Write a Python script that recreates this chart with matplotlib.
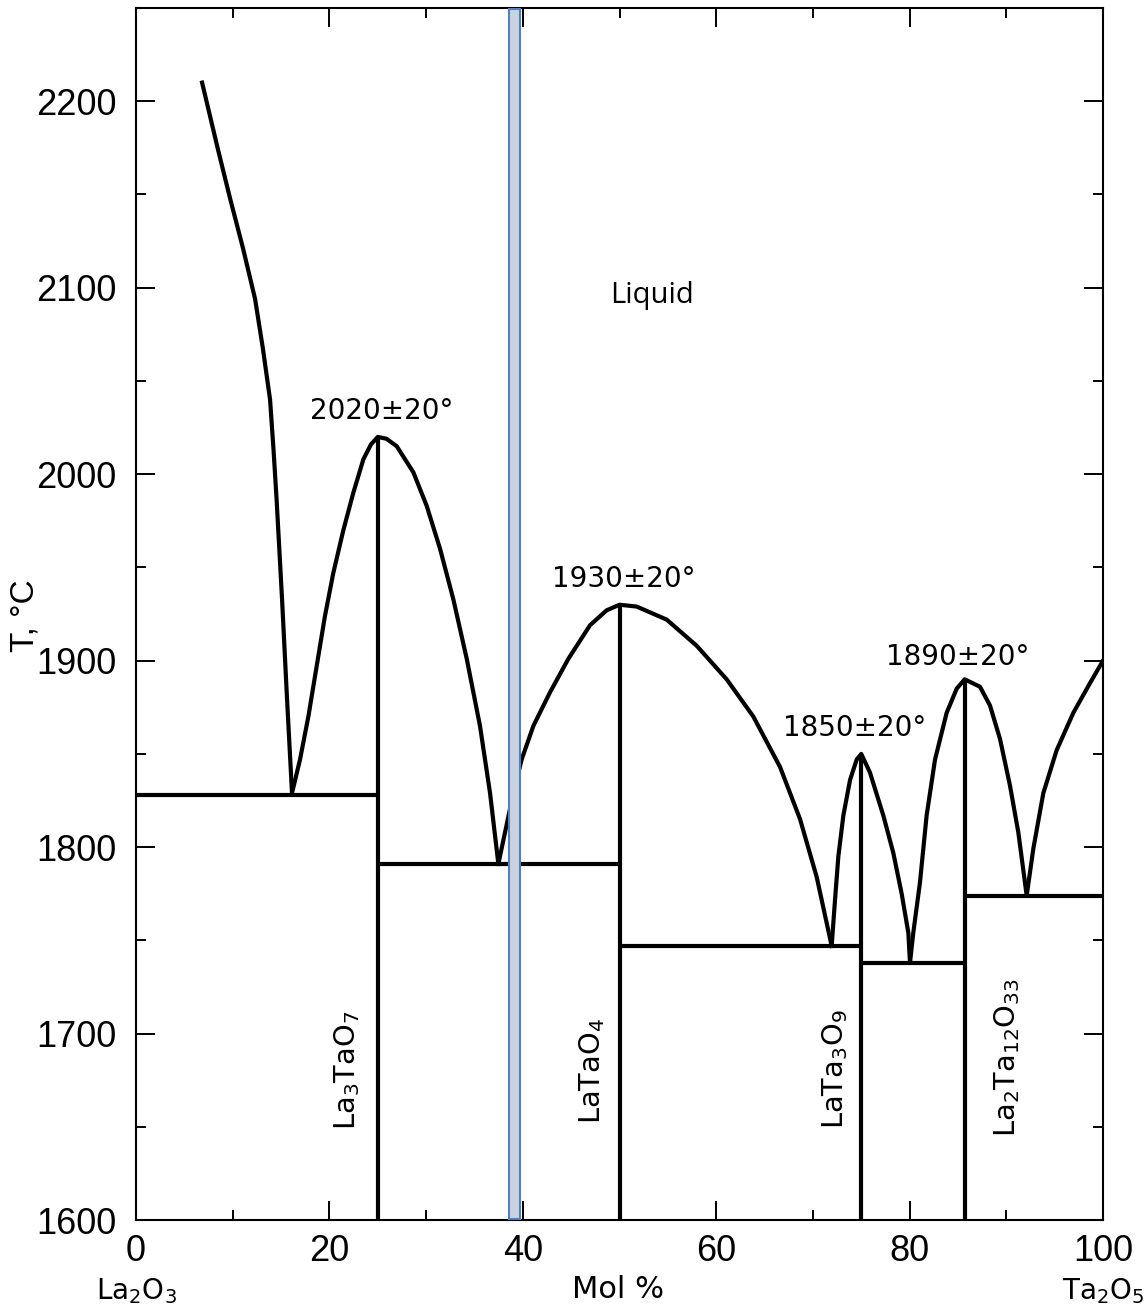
import matplotlib
matplotlib.use("Agg")
import matplotlib.pyplot as plt
from matplotlib.patches import Rectangle
from matplotlib.ticker import MultipleLocator
import matplotlib.transforms as mtransforms

plt.rcParams["mathtext.default"] = "regular"

# liquidus branches (mol % Ta2O5, T in °C)
liq1_x = [6.83, 8.48, 9.72, 11.07, 12.31, 13.13, 13.86, 14.22, 14.53, 15.10, 15.62, 16.13]
liq1_t = [2210, 2174, 2148, 2121, 2094, 2067, 2040, 2013, 1987, 1933, 1879, 1829]

liq2_x = [16.13, 16.96, 17.82, 18.68, 19.54, 20.40, 21.44, 22.47, 23.51, 24.30, 25.0,
          25.9, 26.96, 28.68, 30.06, 31.44, 32.81, 34.20, 35.57, 36.61, 37.47]
liq2_t = [1829, 1847, 1870, 1897, 1924, 1947, 1970, 1990, 2008, 2016, 2020,
          2019, 2015, 2001, 1983, 1960, 1933, 1901, 1865, 1829, 1791]

liq3_x = [37.47, 39.02, 39.88, 41.09, 42.81, 44.71, 46.95, 48.67, 50.0,
          51.78, 54.88, 57.98, 61.08, 63.84, 66.60, 68.67, 70.39, 71.94]
liq3_t = [1791, 1829, 1847, 1865, 1883, 1901, 1919, 1927, 1930,
          1929, 1922, 1908, 1890, 1870, 1843, 1815, 1784, 1747]

liq4_x = [71.94, 72.29, 72.63, 73.15, 73.84, 74.53, 75.0, 75.90, 77.28, 78.31, 79.18, 79.87, 80.04]
liq4_t = [1747, 1772, 1795, 1817, 1836, 1847, 1850, 1840, 1817, 1797, 1775, 1754, 1738]

liq5_x = [80.04, 80.38, 81.07, 81.76, 82.63, 83.83, 84.87, 85.7,
          87.28, 88.31, 89.35, 90.38, 91.24, 92.11]
liq5_t = [1738, 1754, 1781, 1817, 1847, 1872, 1885, 1890,
          1886, 1876, 1858, 1833, 1808, 1774]

liq6_x = [92.11, 92.79, 93.83, 95.21, 96.93, 98.66, 100.0]
liq6_t = [1774, 1799, 1829, 1852, 1872, 1888, 1900]

# eutectic horizontals: (x_start, x_end, T)
eut_x0 = [0, 25, 50, 75, 85.7]
eut_x1 = [25, 50, 75, 85.7, 100]
eut_t = [1828, 1791, 1747, 1738, 1774]

# congruently melting compounds
comp_x = [25, 50, 75, 85.7]
comp_tm = [2020, 1930, 1850, 1890]
comp_names = ["La$_3$TaO$_7$", "LaTaO$_4$", "LaTa$_3$O$_9$", "La$_2$Ta$_{12}$O$_{33}$"]
comp_label_x = [21.8, 47.2, 72.3, 90.1]
comp_label_t = [1680, 1680, 1681, 1687]

melt_labels = ["2020±20°", "1930±20°", "1850±20°", "1890±20°"]
melt_label_x = [25.4, 50.4, 74.35, 84.95]
melt_label_t = [2034, 1944, 1864, 1902]

band_x = (38.6, 39.7)

fig = plt.figure(figsize=(11.48, 13.15), dpi=100)
ax = fig.add_axes([0.1185, 0.0722, 0.8423, 0.9217])

lw = 3.0
for xs, ts in [(liq1_x, liq1_t), (liq2_x, liq2_t), (liq3_x, liq3_t),
               (liq4_x, liq4_t), (liq5_x, liq5_t), (liq6_x, liq6_t)]:
    ax.plot(xs, ts, color="black", lw=lw, solid_joinstyle="round", zorder=3)

ax.hlines(eut_t, eut_x0, eut_x1, colors="black", lw=lw, zorder=3)
ax.vlines(comp_x, 1600, comp_tm, colors="black", lw=lw, zorder=3)

for name, x, t in zip(comp_names, comp_label_x, comp_label_t):
    ax.text(x, t, name, rotation=90, ha="center", va="center",
            fontsize=20.8, family="DejaVu Sans")
for lab, x, t in zip(melt_labels, melt_label_x, melt_label_t):
    ax.text(x, t, lab, ha="center", va="center", fontsize=20, family="DejaVu Sans")

ax.text(53.4, 2096, "Liquid", ha="center", va="center", fontsize=21, family="Open Sans")

# highlighted composition band
ax.add_patch(Rectangle((band_x[0], 1600.5), band_x[1] - band_x[0], 649,
                       facecolor="#c9d3e1", edgecolor="#4f81bd", lw=1.5, zorder=4))

ax.set_xlim(0, 100)
ax.set_ylim(1600, 2250)
ax.xaxis.set_major_locator(MultipleLocator(20))
ax.xaxis.set_minor_locator(MultipleLocator(10))
ax.yaxis.set_major_locator(MultipleLocator(100))
ax.yaxis.set_minor_locator(MultipleLocator(50))
ax.tick_params(which="both", direction="in", top=True, right=True, width=1.4,
               labelsize=26)
ax.tick_params(which="major", length=14)
ax.tick_params(which="minor", length=7)
ax.tick_params(axis="y", pad=14)
ax.tick_params(axis="x", pad=10)
for lab in ax.get_xticklabels() + ax.get_yticklabels():
    lab.set_family("Liberation Sans")
for sp in ax.spines.values():
    sp.set_linewidth(1.5)

ax.set_ylabel("T, °C", fontsize=24, family="Liberation Sans", va="center")
ax.yaxis.set_label_coords(-0.115, 0.499)
ax.set_xlabel("Mol %", fontsize=22, family="DejaVu Sans", va="center")
ax.xaxis.set_label_coords(0.498, -0.057)

trans = mtransforms.blended_transform_factory(ax.transData, ax.transAxes)
ax.text(0, -0.059, "La$_2$O$_3$", transform=trans, ha="center", va="center",
        fontsize=20, family="DejaVu Sans")
ax.text(100, -0.059, "Ta$_2$O$_5$", transform=trans, ha="center", va="center",
        fontsize=20, family="DejaVu Sans")

fig.savefig("out.png", dpi=100)
